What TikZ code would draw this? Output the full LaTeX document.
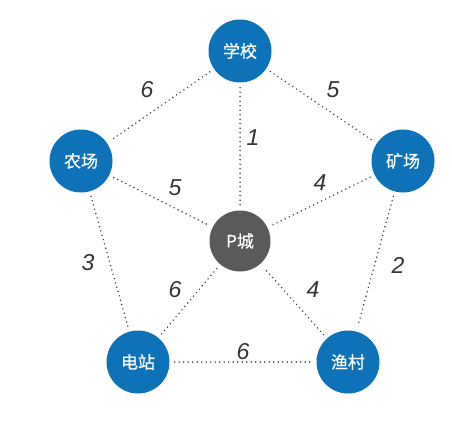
\documentclass[tikz,border=0pt]{standalone}
\usepackage{fontspec}
\setmainfont{Liberation Sans}
\newfontfamily\cjk[FakeBold=0.6]{Noto Sans CJK SC}
\definecolor{nodeblue}{RGB}{14,114,184}
\definecolor{nodegray}{RGB}{90,90,90}
\definecolor{edgegray}{RGB}{55,55,55}
\begin{document}
\begin{tikzpicture}[x=1pt,y=-1pt,
  city/.style={circle,fill=nodeblue,minimum size=63pt,inner sep=0pt,text=white,font=\cjk\fontsize{17}{17}\selectfont},
  center/.style={circle,fill=nodegray,minimum size=61pt,inner sep=0pt,text=white,font=\cjk\fontsize{17}{17}\selectfont},
  road/.style={draw=edgegray,line width=1.6pt,line cap=round,dash pattern=on 0pt off 4.5pt,shorten <=5pt,shorten >=5pt},
  wt/.style={font=\itshape\fontsize{23}{23}\selectfont,text=black!80}]
\useasboundingbox (0,0) rectangle (452,433);
\node[city] (school) at (240,51) {学校};
\node[city] (farm) at (81,161) {农场};
\node[city] (mine) at (403,161) {矿场};
\node[center] (p) at (240,241) {P城};
\node[city] (power) at (138,362) {电站};
\node[city] (fish) at (348,362) {渔村};
\draw[road] (school) -- (farm);
\draw[road] (school) -- (mine);
\draw[road] (school) -- (p);
\draw[road] (farm) -- (p);
\draw[road] (mine) -- (p);
\draw[road] (farm) -- (power);
\draw[road] (mine) -- (fish);
\draw[road] (power) -- (p);
\draw[road] (fish) -- (p);
\draw[road] (power) -- (fish);
\node[wt] (w1) at (147,90) {6};
\node[wt] (w2) at (333,90) {5};
\node[wt] (w3) at (253,138) {1};
\node[wt] (w4) at (175,188) {5};
\node[wt] (w5) at (320,183) {4};
\node[wt] (w6) at (88,263) {3};
\node[wt] (w7) at (398,265) {2};
\node[wt] (w8) at (175,290) {6};
\node[wt] (w9) at (313,290) {4};
\node[wt] (w10) at (243,352) {6};
\end{tikzpicture}
\end{document}
